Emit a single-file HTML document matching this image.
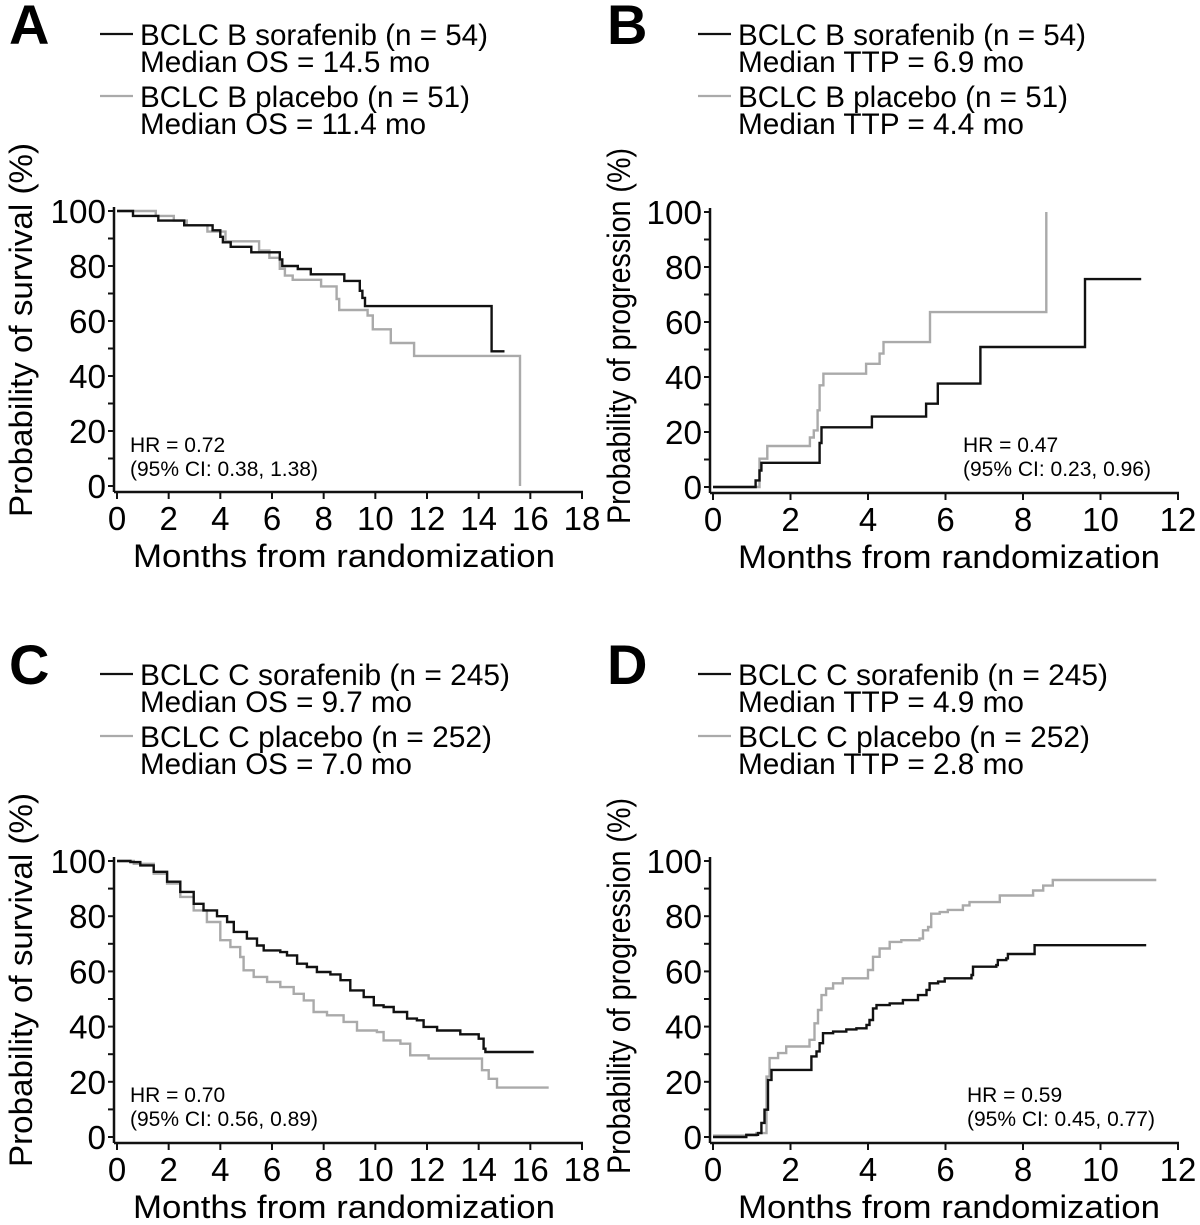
<!DOCTYPE html>
<html><head><meta charset="utf-8">
<style>
html,body{margin:0;padding:0;background:#fff;}
svg{display:block;font-family:"Liberation Sans",Arial,sans-serif;}
</style></head>
<body>
<svg id="fig" width="1200" height="1225" viewBox="0 0 1200 1225" xmlns="http://www.w3.org/2000/svg"></svg>
<script>
// Panel A: overall survival, BCLC B
const aSoraT = [0,0.62,1.6,2.6,3.7,4.0,4.1,4.4,5.2,6.3,6.4,7.0,7.5,8.8,9.4,9.5,9.6,14.5,15.0];
const aSoraS = [100,98.2,96.5,94.8,93,90.6,88.6,87,85,82.4,80,78.9,77,74.6,71,68.4,65.4,49,49];
const aPlacT = [0,1.5,2.2,2.7,3.5,4.2,5.5,5.9,6.3,6.5,6.8,7.9,8.5,8.6,9.7,9.9,10.6,11.5,15.6];
const aPlacS = [100,98.2,96.5,94.8,92.5,89,85.6,83,79,76.5,75,72.6,68,64,62,57,52,47.3,0];
// Panel B: time to progression, BCLC B
const bSoraT = [0,1.1,1.2,1.25,2.75,2.8,4.1,5.5,5.8,6.9,9.6,11.05];
const bSoraP = [0,2.4,6,8.8,16,21.7,25.6,30.3,37.6,50.9,75.6,75.6];
const bPlacT = [0,1.2,1.4,2.5,2.6,2.7,2.75,2.85,3.95,4.3,4.4,5.6,8.6];
const bPlacP = [0,10.3,14.9,18,20.6,27.9,37,41.2,44.8,48.5,52.7,63.6,100];
// Panel C: overall survival, BCLC C
const cSoraT = [0,0.52,0.9,1.42,1.94,2.45,2.97,3.35,3.87,4.26,4.52,5.03,5.42,5.68,6.32,6.58,6.97,7.35,7.74,8.26,8.65,9.03,9.55,9.94,10.32,10.71,11.23,11.61,11.87,12.39,13.29,14.0,14.19,14.26,16.13];
const cSoraS = [100,99.6,98.4,96.1,92.5,88.8,84.5,82.1,80,77.9,74.3,71.9,69.4,67.6,67,65.8,62.8,61.6,59.8,58.9,56.8,53.1,50.7,47.7,47.1,45.3,42.9,42.3,39.9,38.6,37.2,35.6,32,30.8,30.8];
const cPlacT = [0,0.65,1.42,1.94,2.45,2.97,3.48,4.0,4.39,4.77,4.9,5.29,5.81,6.32,6.84,7.23,7.61,8.13,8.77,9.29,10.06,10.32,10.97,11.35,12.06,13.74,14.13,14.39,14.71,16.71];
const cPlacS = [100,99,95.4,91.8,87,82.1,77.9,71.3,68.8,65.2,60.4,58,56.2,54.3,51.9,49.5,45.3,44.1,41.7,38.6,38,35,33.8,29.6,28.4,28.4,24.2,21.1,17.9,17.9];
// Panel D: time to progression, BCLC C
const dSoraT = [0,0.69,0.86,1.16,1.25,1.33,1.42,1.51,2.45,2.54,2.67,2.75,2.84,3.1,3.44,3.7,3.96,4.04,4.13,4.22,4.56,4.9,5.29,5.51,5.59,5.81,5.98,6.67,6.71,7.31,7.35,7.57,7.61,8.3,11.18];
const dSoraP = [0,0,0.8,1.4,5.1,9.9,20.7,24.3,24.3,29.2,31,34,37.6,38.2,39,39.4,40.6,42.4,46.6,47.8,48.4,49.6,51.4,53.3,55.7,56.3,57.5,58.7,61.7,62.3,64.1,64.7,66.3,69.5,69.5];
const dPlacT = [0,0.6,1.12,1.38,1.46,1.68,1.89,2.45,2.49,2.62,2.71,2.8,2.92,3.1,3.35,3.91,4.0,4.13,4.3,4.56,4.86,5.33,5.42,5.55,5.63,5.85,6.06,6.45,6.62,7.35,7.4,8.22,8.26,8.52,8.77,11.44];
const dPlacP = [0.5,0.5,1.4,21.9,28.6,30.4,32.8,32.8,35.2,41.2,46,51.4,53.8,55.7,57.5,57.5,60.5,65.3,68.3,70.7,71.3,71.9,74.9,76.1,80.9,81.5,82.3,83.9,85.1,85.1,87.5,87.5,89.3,91.1,93.1,93.1];

const xTicksA = [0,2,4,6,8,10,12,14,16,18];
const xTicksB = [0,2,4,6,8,10,12];
const yTicks = [0,20,40,60,80,100];

const NS = "http://www.w3.org/2000/svg";
const svg = document.getElementById('fig');
function mk(tag, attrs, parent, text){
  const e = document.createElementNS(NS, tag);
  for (const k in attrs) e.setAttribute(k, attrs[k]);
  if (text !== undefined) e.textContent = text;
  (parent || svg).appendChild(e);
  return e;
}

function panel(cfg){
  const g = mk('g', {});
  
  
  const x0 = cfg.x0, x1 = cfg.x1, y100 = cfg.y100, y0 = cfg.y0, xmax = cfg.xmax;
  const sx = v => x0 + (x1 - x0) * v / xmax;
  const sy = v => y0 - (y0 - y100) * v / 100;
  const axY = y0 + 6, axX = x0 - 3;

  const L = mk('text', {x: cfg.lx - 131, y: cfg.ly - 1, 'font-size': 56, 'font-weight': 'bold'}, g, cfg.letter);
  
  

  const rows = cfg.legend;
  const offs = [0, 27, 62, 89];
  rows.forEach((r, i) => {
    const t = mk('text', {x: cfg.lx, y: cfg.ly + offs[i], 'font-size': 30, textLength: r.w, lengthAdjust: 'spacingAndGlyphs'}, g, r.t);
    
    
  });
  const l1 = mk('line', {x1: cfg.lx - 40, x2: cfg.lx - 7, y1: cfg.ly - 11, y2: cfg.ly - 11, stroke: '#111', 'stroke-width': 2.2}, g);
  
  
  const l2 = mk('line', {x1: cfg.lx - 40, x2: cfg.lx - 7, y1: cfg.ly + 51, y2: cfg.ly + 51, stroke: '#aaa', 'stroke-width': 2.2}, g);
  
  

  const ya = mk('line', {x1: axX, x2: axX, y1: y100 - 4, y2: axY, stroke: '#111', 'stroke-width': 2.5}, g);
  
  
  const xa = mk('line', {x1: axX, x2: sx(xmax) + 1, y1: axY, y2: axY, stroke: '#111', 'stroke-width': 2.5}, g);
  
  
  for (let v = 0; v <= 100; v += 10) {
    const tk = mk('line', {x1: axX - 6, x2: axX, y1: sy(v), y2: sy(v), stroke: '#111', 'stroke-width': 2}, g);
    
    
  }
  yTicks.forEach(v => {
    const t = mk('text', {x: axX - 8, y: sy(v) + 12, 'font-size': 33, 'text-anchor': 'end', textLength: String(v).length * 18.5, lengthAdjust: 'spacingAndGlyphs'}, g, String(v));
    
    
  });
  cfg.xticks.forEach(v => {
    const tk = mk('line', {x1: sx(v), x2: sx(v), y1: axY, y2: axY + 7, stroke: '#111', 'stroke-width': 2}, g);
    
    
    const t = mk('text', {x: sx(v), y: axY + 38, 'font-size': 33, 'text-anchor': 'middle'}, g, String(v));
    
    
  });
  const xt = mk('text', {x: cfg.xtx, y: axY + 75, 'font-size': 32, textLength: 422, lengthAdjust: 'spacingAndGlyphs'}, g, 'Months from randomization');
  
  
  const ytx = cfg.ytx, yty = (cfg.yt0 + cfg.yt1) / 2;
  const yt = mk('text', {x: ytx, y: yty, 'font-size': 32, 'text-anchor': 'middle', transform: `rotate(-90 ${ytx} ${yty})`, textLength: cfg.yt1 - cfg.yt0, lengthAdjust: 'spacingAndGlyphs'}, g, cfg.ytitle);
  
  

  const h1 = mk('text', {x: cfg.hx, y: cfg.hy, 'font-size': 21}, g, cfg.hr[0]);
  
  
  const h2 = mk('text', {x: cfg.hx, y: cfg.hy + 24, 'font-size': 21}, g, cfg.hr[1]);
  
  

  function step(T, V){
    let d = `M${sx(T[0]).toFixed(1)},${sy(V[0]).toFixed(1)}`;
    for (let i = 1; i < T.length; i++) {
      d += ` H${sx(T[i]).toFixed(1)} V${sy(V[i]).toFixed(1)}`;
    }
    return d;
  }
  const pc = mk('path', {d: step(cfg.pt, cfg.pv), fill: 'none', stroke: '#aaa', 'stroke-width': 2.4}, g);
  
  
  const sc = mk('path', {d: step(cfg.st, cfg.sv), fill: 'none', stroke: '#111', 'stroke-width': 2.4}, g);
  
  
}

panel({letter:'A', lx:140, ly:45, x0:117, x1:582, xmax:18, y100:211, y0:486, xticks:xTicksA,
  xtx:133, ytx:32, yt0:143, yt1:517, ytitle:'Probability of survival (%)',
  hx:130, hy:452, hr:['HR = 0.72','(95% CI: 0.38, 1.38)'],
  legend:[{t:'BCLC B sorafenib (n = 54)',w:348},{t:'Median OS = 14.5 mo',w:290},{t:'BCLC B placebo (n = 51)',w:330},{t:'Median OS = 11.4 mo',w:286}],
  st:aSoraT, sv:aSoraS, pt:aPlacT, pv:aPlacS});
panel({letter:'B', lx:738, ly:45, x0:713, x1:1178, xmax:12, y100:212, y0:487, xticks:xTicksB,
  xtx:738, ytx:630, yt0:148, yt1:524, ytitle:'Probability of progression (%)',
  hx:963, hy:452, hr:['HR = 0.47','(95% CI: 0.23, 0.96)'],
  legend:[{t:'BCLC B sorafenib (n = 54)',w:348},{t:'Median TTP = 6.9 mo',w:286},{t:'BCLC B placebo (n = 51)',w:330},{t:'Median TTP = 4.4 mo',w:286}],
  st:bSoraT, sv:bSoraP, pt:bPlacT, pv:bPlacP});
panel({letter:'C', lx:140, ly:685, x0:117, x1:582, xmax:18, y100:861, y0:1137, xticks:xTicksA,
  xtx:133, ytx:32, yt0:793, yt1:1167, ytitle:'Probability of survival (%)',
  hx:130, hy:1102, hr:['HR = 0.70','(95% CI: 0.56, 0.89)'],
  legend:[{t:'BCLC C sorafenib (n = 245)',w:370},{t:'Median OS = 9.7 mo',w:272},{t:'BCLC C placebo (n = 252)',w:352},{t:'Median OS = 7.0 mo',w:272}],
  st:cSoraT, sv:cSoraS, pt:cPlacT, pv:cPlacS});
panel({letter:'D', lx:738, ly:685, x0:713, x1:1178, xmax:12, y100:861, y0:1137, xticks:xTicksB,
  xtx:738, ytx:630, yt0:798, yt1:1174, ytitle:'Probability of progression (%)',
  hx:967, hy:1102, hr:['HR = 0.59','(95% CI: 0.45, 0.77)'],
  legend:[{t:'BCLC C sorafenib (n = 245)',w:370},{t:'Median TTP = 4.9 mo',w:286},{t:'BCLC C placebo (n = 252)',w:352},{t:'Median TTP = 2.8 mo',w:286}],
  st:dSoraT, sv:dSoraP, pt:dPlacT, pv:dPlacP});
</script>
</body></html>
